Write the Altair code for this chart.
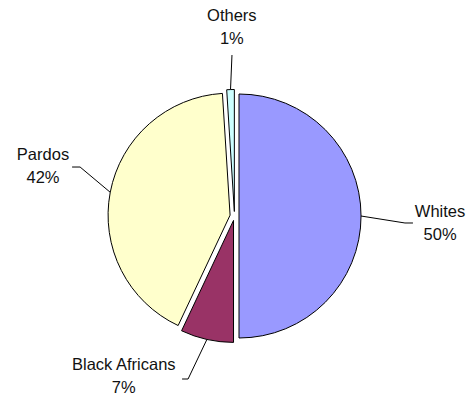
import math
import altair as alt
import pandas as pd

# ---- data ----
categories = ["Whites", "Black Africans", "Pardos", "Others"]
shares = [50, 7, 42, 1]
pct_labels = ["50%", "7%", "42%", "1%"]

# ---- style / layout ----
colors = ["#9999FF", "#993366", "#FFFFCC", "#CCFFFF"]
CX, CY, R, EXPLODE = 234.5, 216, 122, 4.5
label_angle = [92.2, 214.6, 284.5, 359.2]
label_radius = [205.7, 195.0, 197.8, 189]
elbow_angle = [92.35, 195.9, 287.6, 359.1]
elbow_radius = [170.6, 169.5, 162, 161]
tail = [8, -6, -8, 0]

df = pd.DataFrame({
    "category": categories,
    "share": shares,
    "pct": pct_labels,
    "order": list(range(len(categories))),
    "la": label_angle,
    "lr": label_radius,
    "ea": elbow_angle,
    "er": elbow_radius,
    "tail": tail,
})

base = (
    alt.Chart(df)
    .transform_joinaggregate(total="sum(share)")
    .transform_window(cum="sum(share)", sort=[alt.SortField("order")])
    .transform_calculate(
        mid="2*PI*(datum.cum - datum.share/2)/datum.total",
    )
    .transform_calculate(
        cx=f"{CX} + {EXPLODE}*sin(datum.mid)",
        cy=f"{CY} - {EXPLODE}*cos(datum.mid)",
        sx=f"{CX} + {R + EXPLODE}*sin(datum.mid)",
        sy=f"{CY} - {R + EXPLODE}*cos(datum.mid)",
        ex=f"{CX} + datum.er*sin(datum.ea*PI/180)",
        ey=f"{CY} - datum.er*cos(datum.ea*PI/180)",
        lx=f"{CX} + datum.lr*sin(datum.la*PI/180)",
        ly=f"{CY} - datum.lr*cos(datum.la*PI/180)",
    )
    .transform_calculate(
        tx="datum.ex + datum.tail",
        ny="datum.ly - 11.5",
        py="datum.ly + 11.5",
    )
)

arcs = base.mark_arc(stroke="black", strokeWidth=1, radius=R).encode(
    theta=alt.Theta("share:Q", stack=True),
    order=alt.Order("order:Q"),
    color=alt.Color("category:N", scale=alt.Scale(domain=categories, range=colors), legend=None),
    x=alt.X("cx:Q", scale=None),
    y=alt.Y("cy:Q", scale=None),
)

lead1 = base.mark_rule(color="black", strokeWidth=1).encode(
    x=alt.X("sx:Q", scale=None),
    y=alt.Y("sy:Q", scale=None),
    x2="ex:Q",
    y2="ey:Q",
)

lead2 = base.mark_rule(color="black", strokeWidth=1).encode(
    x=alt.X("ex:Q", scale=None),
    y=alt.Y("ey:Q", scale=None),
    x2="tx:Q",
    y2="ey:Q",
)

name_text = base.mark_text(font="Liberation Sans", fontSize=16.5, color="#111111",
                           align="center", baseline="middle").encode(
    x=alt.X("lx:Q", scale=None),
    y=alt.Y("ny:Q", scale=None),
    text="category:N",
)

pct_text = base.mark_text(font="Liberation Sans", fontSize=16.5, color="#111111",
                          align="center", baseline="middle").encode(
    x=alt.X("lx:Q", scale=None),
    y=alt.Y("py:Q", scale=None),
    text="pct:N",
)

chart = (
    alt.layer(arcs, lead1, lead2, name_text, pct_text)
    .properties(width=471, height=396, autosize="none", padding=0, background="white")
    .configure_view(strokeWidth=0)
)

chart.save("out.html", embed_options={"renderer": "svg", "actions": False})
